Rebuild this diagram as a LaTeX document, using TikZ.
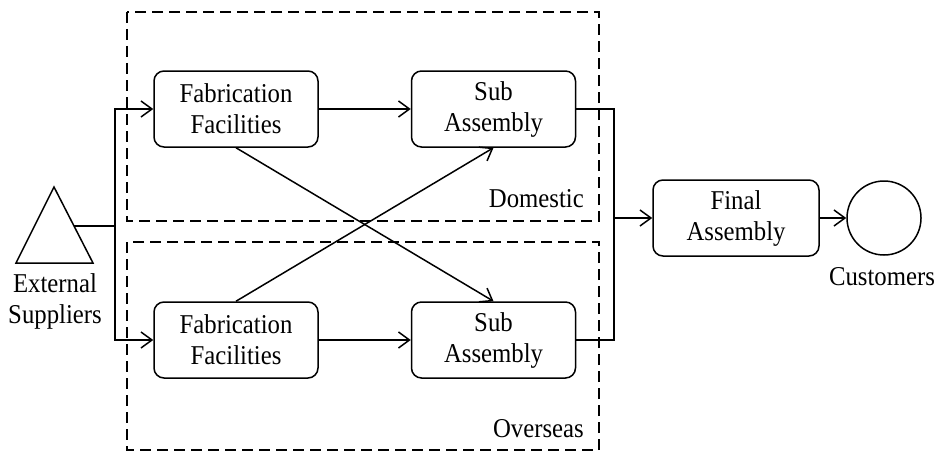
\documentclass[tikz,border=0pt]{standalone}
\usepackage{fontspec}
\setmainfont{Liberation Serif}[FakeStretch=0.91]
\usetikzlibrary{arrows.meta}
\begin{document}
\begin{tikzpicture}[x=1pt,y=-1pt,
  every node/.style={font=\fontsize{27.2}{31}\selectfont},
  proc/.style={draw,rounded corners=10pt,line width=1.5pt,minimum width=164pt,minimum height=76pt,align=center,inner sep=0pt},
  region/.style={draw,line width=1.3pt,dash pattern=on 11pt off 6pt},
  conn/.style={line width=1.5pt},
  arr/.style={conn,-{Straight Barb[length=11pt,width=16pt,line width=1.5pt]}},
  lbl/.style={inner sep=0pt}
]
\useasboundingbox (0,0) rectangle (939,452);
% regions
\draw[region] (127,12) rectangle (599,221);
\draw[region] (127,242) rectangle (599,450);
\node[lbl,anchor=base east] (dom) at (584,207) {Domestic};
\node[lbl,anchor=base east] (ovs) at (584,437) {Overseas};
% supplier triangle
\draw[line width=1.5pt,line join=miter] (54,187) -- (93,263) -- (16,263) -- cycle;
\coordinate (sup) at (74,226);
\coordinate (j) at (115,226);
\node[lbl,anchor=base,align=center] (suplbl) at (55,323) {External\\Suppliers};
% process boxes
\node[proc] (fab1) at (236,109) {Fabrication\\Facilities};
\node[proc] (sub1) at (493.5,109) {Sub\\Assembly};
\node[proc] (fab2) at (236,340) {Fabrication\\Facilities};
\node[proc] (sub2) at (493.5,340) {Sub\\Assembly};
\node[proc,minimum width=166pt] (fin) at (736,218) {Final\\Assembly};
\node[draw,circle,line width=1.5pt,minimum size=74pt,inner sep=0pt] (cust) at (884,218) {};
\node[lbl,anchor=base] (custlbl) at (882,285) {Customers};
\coordinate (k) at (614,218);
% connectors
\draw[conn] (sup) -- (j);
\draw[arr] (j) |- (fab1.west);
\draw[arr] (j) |- (fab2.west);
\draw[arr] (fab1) -- (sub1);
\draw[arr] (fab2) -- (sub2);
\draw[arr] (fab1.south) -- (sub2.north);
\draw[arr] (fab2.north) -- (sub1.south);
\draw[conn] (sub1.east) -| (k);
\draw[conn] (sub2.east) -| (k);
\draw[arr] (k) -- (fin.west);
\draw[arr] (fin.east) -- (cust.west);
\end{tikzpicture}
\end{document}
